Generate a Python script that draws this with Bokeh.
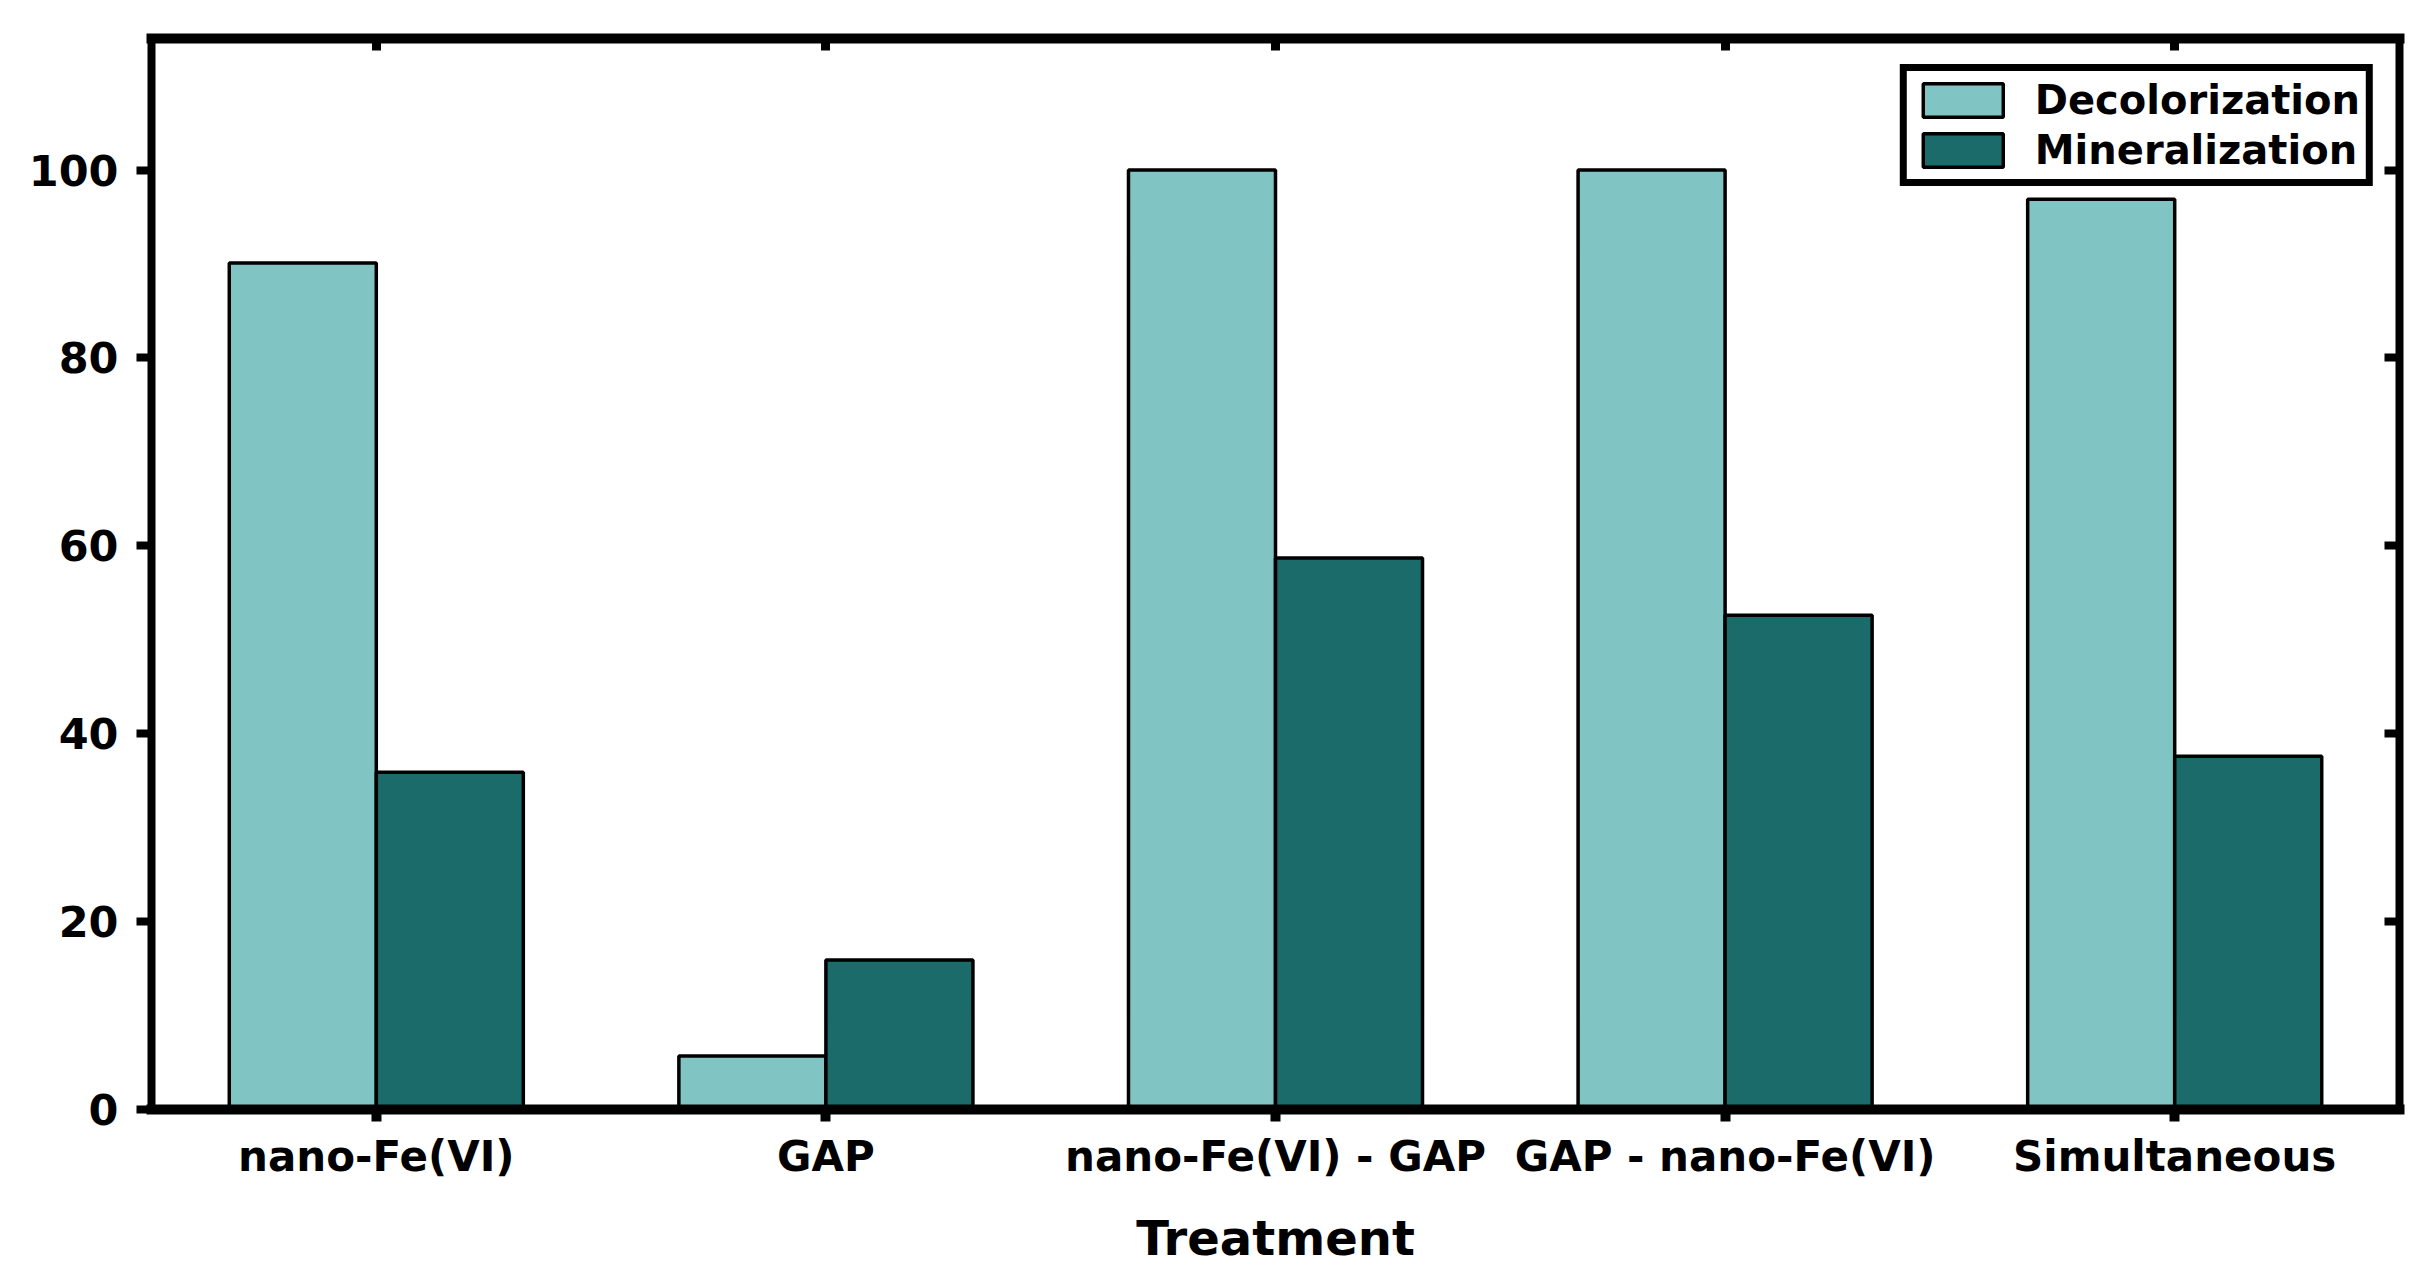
import numpy as np
from bokeh.plotting import figure
from bokeh.models import (LinearAxis, Range1d, FixedTicker, Legend, LegendItem,
                          CustomJSTickFormatter)
from bokeh.embed import file_html
from bokeh.resources import INLINE

categories = ["nano-Fe(VI)", "GAP", "nano-Fe(VI) - GAP", "GAP - nano-Fe(VI)", "Simultaneous"]
decolorization = [90.1, 5.7, 100.0, 100.0, 96.9]
mineralization = [35.9, 15.9, 58.7, 52.6, 37.6]
y_ticks = [0, 20, 40, 60, 80, 100]

LIGHT = "#80C5C4"
DARK = "#1C6B6B"
FONT = "DejaVu Sans"

xs = np.arange(1, len(categories) + 1)
bw = 0.327

p = figure(width=2415, height=1268, x_range=Range1d(0.5, 5.5), y_range=Range1d(0, 114),
           output_backend="svg", toolbar_location=None,
           min_border_left=151, min_border_right=16, min_border_top=38, min_border_bottom=159)
p.xgrid.visible = False
p.ygrid.visible = False
p.outline_line_color = None
p.background_fill_color = "white"

r1 = p.vbar(x=xs - bw / 2, top=decolorization, width=bw, fill_color=LIGHT,
            line_color="black", line_width=3.5)
r2 = p.vbar(x=xs + bw / 2, top=mineralization, width=bw, fill_color=DARK,
            line_color="black", line_width=3.5)

# bottom axis
xa = p.xaxis[0]
xa.ticker = FixedTicker(ticks=list(xs))
xa.major_label_overrides = {int(i): c for i, c in zip(xs, categories)}
xa.axis_line_width = 10
xa.axis_line_color = "black"
xa.axis_line_cap = "square"
xa.major_tick_line_width = 10
xa.major_tick_line_color = "black"
xa.major_tick_out = 12
xa.major_tick_in = 0
xa.minor_tick_line_color = None
xa.major_label_standoff = 10
xa.major_label_text_font = FONT
xa.major_label_text_font_style = "bold"
xa.major_label_text_font_size = "42px"
xa.major_label_text_color = "black"
xa.axis_label = "Treatment"
xa.axis_label_text_font = FONT
xa.axis_label_text_font_style = "bold"
xa.axis_label_text_font_size = "48px"
xa.axis_label_text_color = "black"
xa.axis_label_standoff = 26

# left axis
ya = p.yaxis[0]
ya.ticker = FixedTicker(ticks=y_ticks)
ya.axis_line_width = 8
ya.axis_line_color = "black"
ya.axis_line_cap = "square"
ya.major_tick_line_width = 8
ya.major_tick_line_color = "black"
ya.major_tick_out = 15
ya.major_tick_in = 0
ya.minor_tick_line_color = None
ya.major_label_standoff = 18
ya.major_label_text_font = FONT
ya.major_label_text_font_style = "bold"
ya.major_label_text_font_size = "43px"
ya.major_label_text_color = "black"

blank = CustomJSTickFormatter(code="return '';")

ra = LinearAxis(ticker=FixedTicker(ticks=y_ticks), formatter=blank,
                axis_line_width=8, axis_line_cap="square",
                major_tick_line_width=8, major_tick_in=15, major_tick_out=0,
                minor_tick_line_color=None, major_label_text_font_size="0px",
                major_label_standoff=0)
p.add_layout(ra, "right")

ta = LinearAxis(ticker=FixedTicker(ticks=list(xs)), formatter=blank,
                axis_line_width=10, axis_line_cap="square",
                major_tick_line_width=9, major_tick_in=12, major_tick_out=0,
                minor_tick_line_color=None, major_label_text_font_size="0px",
                major_label_standoff=0)
p.add_layout(ta, "above")

legend = Legend(items=[LegendItem(label="Decolorization", renderers=[r1]),
                       LegendItem(label="Mineralization", renderers=[r2])],
                location="top_right", margin=26, padding=6, spacing=4,
                glyph_width=100, glyph_height=42, label_standoff=22,
                border_line_color="black", border_line_width=7, border_line_alpha=1.0,
                label_text_font=FONT, label_text_font_style="bold",
                label_text_color="black",
                label_text_font_size="40px", background_fill_alpha=1.0)
p.add_layout(legend, "center")

open("out.html", "w").write(file_html(p, INLINE))
